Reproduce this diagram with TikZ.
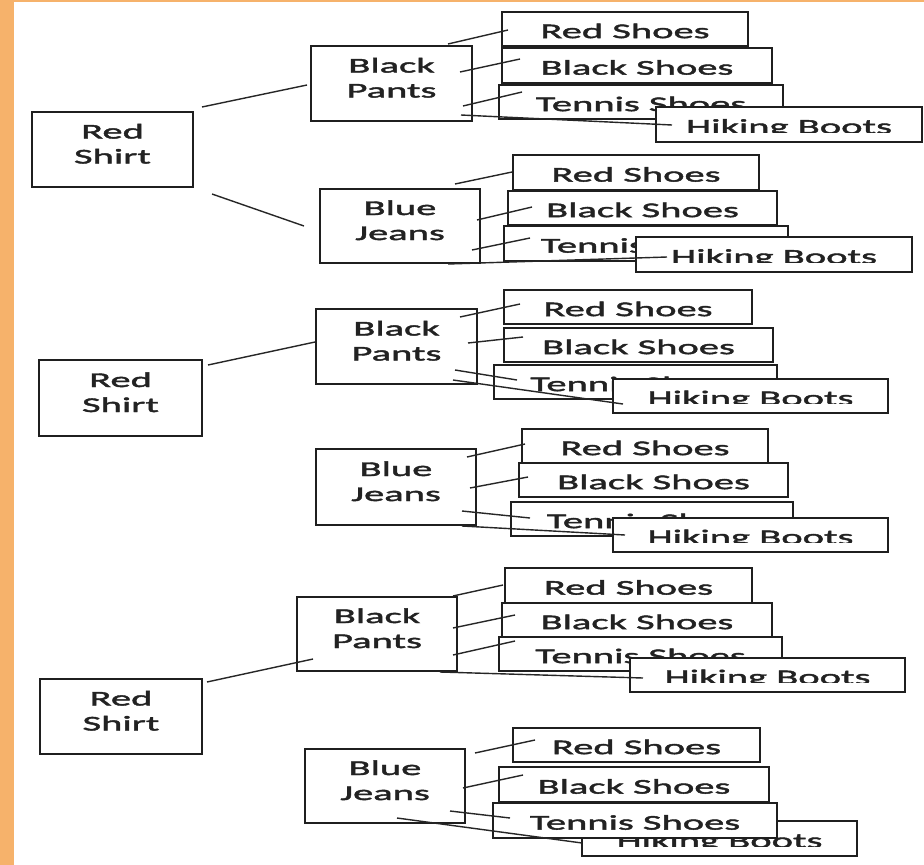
\documentclass[tikz,border=0pt]{standalone}
\usepackage{fontspec}
\setmainfont{Carlito}[FakeStretch=1.93,FakeBold=2]
\definecolor{orng}{HTML}{F6B26B}
\definecolor{boxc}{HTML}{1F1F1F}
\definecolor{txtc}{HTML}{222222}
\definecolor{linec}{HTML}{262626}
\newcommand\twolines[2]{\vtop{\baselineskip=25pt\halign{\hfil##\hfil\cr #1\cr #2\cr}}}
\begin{document}
\begin{tikzpicture}[x=1pt,y=-1pt,
  box/.style={draw=boxc, line width=1.8pt, fill=white, rectangle, inner sep=0pt,
    text=txtc, font=\fontsize{21}{25}\selectfont},
  one/.style={box, text height=18.3pt, text depth=0pt},
  two/.style={box, text height=3pt, text depth=25pt, minimum width=#1pt, minimum height=75pt},
  two/.default=161,
  hike/.style={box, path picture={
      \begin{scope}
        \clip ([yshift=9.5pt]path picture bounding box.south west) rectangle (path picture bounding box.north east);
        \node[inner sep=0pt, text height=18.3pt, text depth=0pt, text=txtc,
          font=\fontsize{21}{25}\selectfont] at (path picture bounding box.center) {Hiking Boots};
      \end{scope}}},
  conn/.style={draw=linec, line width=1.4pt}]
\useasboundingbox (0,0) rectangle (924,865);
\fill[white] (0,0) rectangle (924,865);
\fill[orng] (0,0) rectangle (14,865);
\fill[orng] (0,0) rectangle (924,1.5);

% ---------- group 1 ----------
\node[two=161] (rsh1) at (112.5,149.5) {\twolines{Red}{Shirt}};
\node[two=161] (bp1) at (391.5,83.5) {\twolines{Black}{Pants}};
\node[two=160, minimum height=74pt] (bj1) at (400,226) {\twolines{Blue}{Jeans}};
\node[one, minimum width=246pt, minimum height=34pt] (rs1) at (625,29) {Red Shoes};
\node[one, minimum width=270pt, minimum height=35pt] (bs1) at (637,65.5) {Black Shoes};
\node[one, minimum width=284pt, minimum height=34pt] (ts1) at (641,102) {Tennis Shoes};
\node[hike, minimum width=266pt, minimum height=35pt] (hb1) at (789,124.5) {};
\node[one, minimum width=246pt, minimum height=35pt] (rs2) at (636,172.5) {Red Shoes};
\node[one, minimum width=269pt, minimum height=34pt] (bs2) at (642.5,208) {Black Shoes};
\node[one, minimum width=284pt, minimum height=35pt] (ts2) at (646,243.5) {Tennis Shoes};
\node[hike, minimum width=276pt, minimum height=35pt] (hb2) at (774,254.5) {};

% ---------- group 2 ----------
\node[two=163, minimum height=76pt] (rsh2) at (120.5,398) {\twolines{Red}{Shirt}};
\node[two=161] (bp2) at (396.5,346.5) {\twolines{Black}{Pants}};
\node[two=160, minimum height=76pt] (bj2) at (396,487) {\twolines{Blue}{Jeans}};
\node[one, minimum width=248pt, minimum height=34pt] (rs3) at (628,307) {Red Shoes};
\node[one, minimum width=269pt, minimum height=34pt] (bs3) at (638.5,345) {Black Shoes};
\node[one, minimum width=283pt, minimum height=34pt] (ts3) at (635.5,382) {Tennis Shoes};
\node[hike, minimum width=275pt, minimum height=34pt] (hb3) at (750.5,396) {};
\node[one, minimum width=246pt, minimum height=34pt] (rs4) at (645,446) {Red Shoes};
\node[one, minimum width=269pt, minimum height=34pt] (bs4) at (653.5,480) {Black Shoes};
\node[one, minimum width=282pt, minimum height=34pt] (ts4) at (652,519) {Tennis Shoes};
\node[hike, minimum width=275pt, minimum height=34pt] (hb4) at (750.5,535) {};

% ---------- group 3 ----------
\node[two=162] (rsh3) at (121,716.5) {\twolines{Red}{Shirt}};
\node[two=160, minimum height=74pt] (bp3) at (377,634) {\twolines{Black}{Pants}};
\node[two=160, minimum height=74pt] (bj3) at (385,786) {\twolines{Blue}{Jeans}};
\node[one, minimum width=247pt, minimum height=35pt] (rs5) at (628.5,585.5) {Red Shoes};
\node[one, minimum width=270pt, minimum height=34pt] (bs5) at (637,620) {Black Shoes};
\node[one, minimum width=283pt, minimum height=34pt] (ts5) at (640.5,654) {Tennis Shoes};
\node[hike, minimum width=275pt, minimum height=34pt] (hb5) at (767.5,675) {};
\node[one, minimum width=247pt, minimum height=34pt] (rs6) at (636.5,745) {Red Shoes};
\node[one, minimum width=270pt, minimum height=35pt] (bs6) at (634,784.5) {Black Shoes};
\node[hike, minimum width=275pt, minimum height=35pt] (hb6) at (719.5,838.5) {};
\node[one, minimum width=284pt, minimum height=35pt] (ts6) at (635,820.5) {Tennis Shoes};

% ---------- connectors ----------
\draw[conn] ([shift={(89.5,-42.5)}]rsh1.center) -- ([shift={(-84.5,1.5)}]bp1.center);
\draw[conn] ([shift={(99.5,44.5)}]rsh1.center) -- ([shift={(-96,0)}]bj1.center);
\draw[conn] ([shift={(56.5,-39.5)}]bp1.center) -- ([shift={(-117,1)}]rs1.center);
\draw[conn] ([shift={(68.5,-11.5)}]bp1.center) -- ([shift={(-117,-6.5)}]bs1.center);
\draw[conn] ([shift={(71.5,22.5)}]bp1.center) -- ([shift={(-119,-10)}]ts1.center);
\draw[conn] ([shift={(69.5,31.5)}]bp1.center) -- ([shift={(-117,0.5)}]hb1.center);
\draw[conn] ([shift={(55,-42)}]bj1.center) -- ([shift={(-124,-0.5)}]rs2.center);
\draw[conn] ([shift={(77,-6)}]bj1.center) -- ([shift={(-110.5,-1)}]bs2.center);
\draw[conn] ([shift={(72,24)}]bj1.center) -- ([shift={(-116,-5.5)}]ts2.center);
\draw[conn] ([shift={(48,38)}]bj1.center) -- ([shift={(-107,2.5)}]hb2.center);

\draw[conn] ([shift={(87.5,-33)}]rsh2.center) -- ([shift={(-81.5,-4.5)}]bp2.center);
\draw[conn] ([shift={(63.5,-29.5)}]bp2.center) -- ([shift={(-108,-3)}]rs3.center);
\draw[conn] ([shift={(71.5,-3.5)}]bp2.center) -- ([shift={(-115.5,-8)}]bs3.center);
\draw[conn] ([shift={(58.5,23.5)}]bp2.center) -- ([shift={(-118.5,-2)}]ts3.center);
\draw[conn] ([shift={(56.5,33.5)}]bp2.center) -- ([shift={(-127.5,8)}]hb3.center);
\draw[conn] ([shift={(71,-30)}]bj2.center) -- ([shift={(-120,-2)}]rs4.center);
\draw[conn] ([shift={(74,1)}]bj2.center) -- ([shift={(-125.5,-3)}]bs4.center);
\draw[conn] ([shift={(66,24)}]bj2.center) -- ([shift={(-122,-1)}]ts4.center);
\draw[conn] ([shift={(66,39)}]bj2.center) -- ([shift={(-125.5,0)}]hb4.center);

\draw[conn] ([shift={(86,-34.5)}]rsh3.center) -- ([shift={(-64,25)}]bp3.center);
\draw[conn] ([shift={(76,-38)}]bp3.center) -- ([shift={(-125.5,-0.5)}]rs5.center);
\draw[conn] ([shift={(76,-6)}]bp3.center) -- ([shift={(-122,-5)}]bs5.center);
\draw[conn] ([shift={(76,21)}]bp3.center) -- ([shift={(-125.5,-13)}]ts5.center);
\draw[conn] ([shift={(63,38)}]bp3.center) -- ([shift={(-124.5,3)}]hb5.center);
\draw[conn] ([shift={(90,-33)}]bj3.center) -- ([shift={(-101.5,-5)}]rs6.center);
\draw[conn] ([shift={(78,2)}]bj3.center) -- ([shift={(-111,-9.5)}]bs6.center);
\draw[conn] ([shift={(65,25)}]bj3.center) -- ([shift={(-125,-2.5)}]ts6.center);
\draw[conn] ([shift={(12,32)}]bj3.center) -- ([shift={(-137.5,4.5)}]hb6.center);
\end{tikzpicture}
\end{document}
